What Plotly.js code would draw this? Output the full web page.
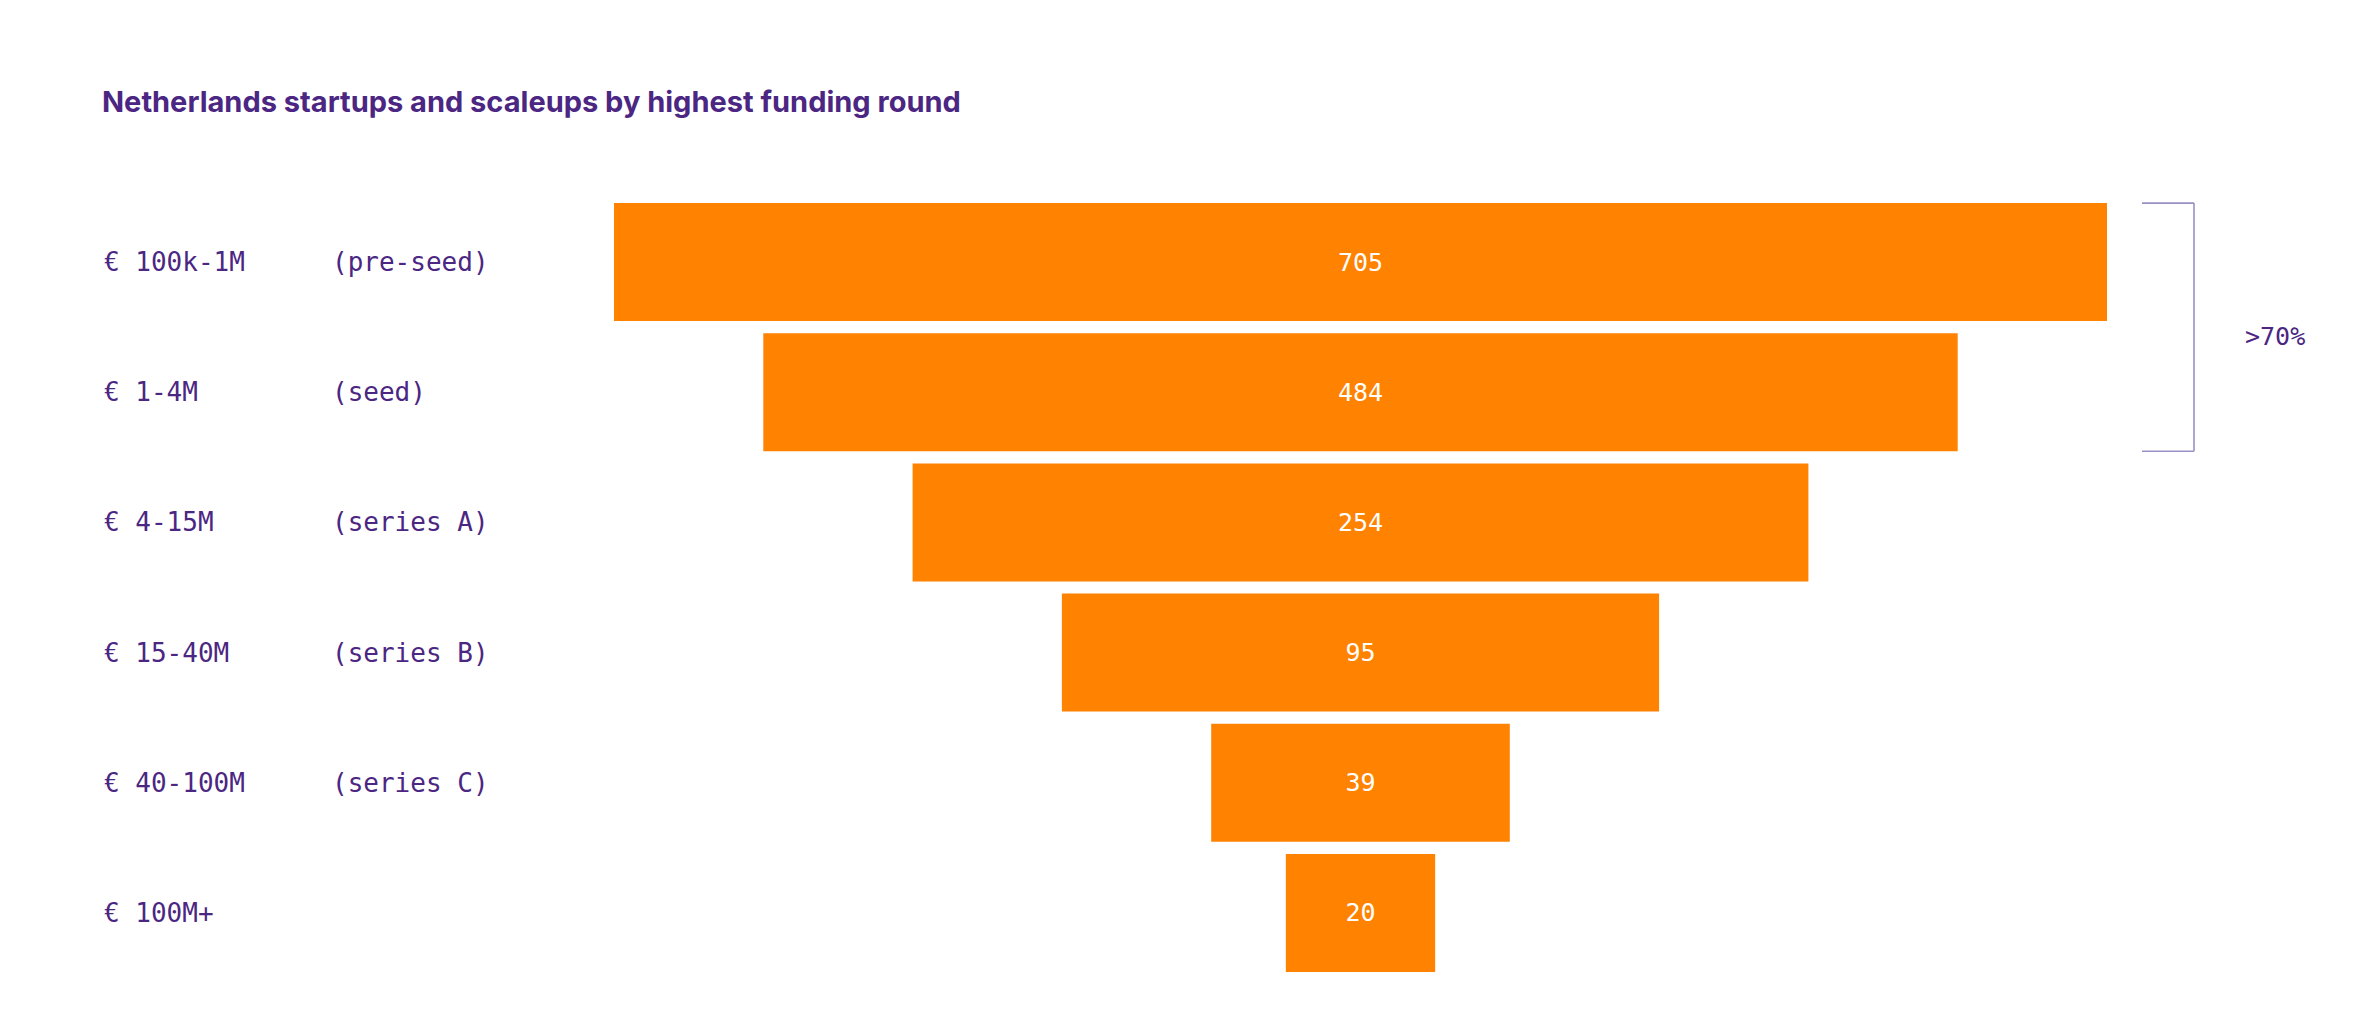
<!DOCTYPE html>
<html>
<head>
<meta charset="utf-8">
<script src="https://cdn.plot.ly/plotly-3.0.1.min.js"></script>
<style>html,body{margin:0;padding:0;background:#fff;}#chart{width:2378px;height:1026px;}</style>
</head>
<body>
<div id="chart"></div>
<script>
// Data
const rounds = ['€ 100k-1M', '€ 1-4M', '€ 4-15M', '€ 15-40M', '€ 40-100M', '€ 100M+'];
const stages = ['(pre-seed)', '(seed)', '(series A)', '(series B)', '(series C)', ''];
const counts = [705, 484, 254, 95, 39, 20];
// visual funnel step widths (the bars are stepped, not proportional to counts)
const funnelSteps = [10, 8, 6, 4, 2, 1];
const bracketLabel = '>70%';
const titleText = 'Netherlands startups and scaleups by highest funding round';

const W = 2378, H = 1026;
const purple = '#4B2682';
const mono = 'DejaVu Sans Mono, Liberation Mono, monospace';
const gap = 0.094;
const half = (1 - gap) / 2;

const trace = {
  type: 'funnel',
  y: rounds,
  x: funnelSteps,
  text: counts.map(String),
  textinfo: 'text',
  textposition: 'inside',
  insidetextanchor: 'middle',
  constraintext: 'none',
  textangle: 0,
  textfont: {family: mono, size: 25, color: '#ffffff'},
  marker: {color: '#FF8200', line: {width: 0}},
  connector: {visible: false},
  hoverinfo: 'none'
};

const annotations = [];
rounds.forEach((r, i) => {
  annotations.push({
    xref: 'paper', yref: 'y', x: 102 / W, y: r, xanchor: 'left', yanchor: 'middle',
    text: r, showarrow: false, font: {family: mono, size: 26, color: purple}
  });
  if (stages[i]) {
    annotations.push({
      xref: 'paper', yref: 'y', x: 330 / W, y: r, xanchor: 'left', yanchor: 'middle',
      text: stages[i], showarrow: false, font: {family: mono, size: 26, color: purple}
    });
  }
});
annotations.push({
  xref: 'paper', yref: 'y', x: 2243 / W, y: 0.57, xanchor: 'left', yanchor: 'middle',
  text: bracketLabel, showarrow: false, font: {family: mono, size: 25, color: purple}
});

const bx = 2194 / W, bx0 = 2142 / W;
const bracketColor = '#9A8FC6';
const shapes = [
  {type: 'line', xref: 'paper', yref: 'y', x0: bx, x1: bx, y0: -half, y1: 1 + half, line: {color: bracketColor, width: 1.6}},
  {type: 'line', xref: 'paper', yref: 'y', x0: bx0, x1: bx, y0: -half, y1: -half, line: {color: bracketColor, width: 1.6}},
  {type: 'line', xref: 'paper', yref: 'y', x0: bx0, x1: bx, y0: 1 + half, y1: 1 + half, line: {color: bracketColor, width: 1.6}}
];

const cx = 1360.5, unit = 149.3;
const layout = {
  width: W, height: H,
  margin: {l: 0, r: 0, t: 197, b: 48, pad: 0},
  paper_bgcolor: '#ffffff', plot_bgcolor: '#ffffff',
  showlegend: false,
  funnelgap: gap,
  title: {
    text: titleText,
    font: {family: 'Inter, Roboto, sans-serif', size: 29, weight: 700, color: purple},
    xref: 'container', yref: 'container', x: 102 / W, xanchor: 'left', y: 1 - 102 / H, yanchor: 'middle'
  },
  xaxis: {visible: false, range: [-cx / unit, (W - cx) / unit], fixedrange: true},
  yaxis: {type: 'category', range: [5.5, -0.5], showticklabels: false, showgrid: false, zeroline: false, showline: false, ticks: ''},
  annotations: annotations,
  shapes: shapes
};

Plotly.newPlot('chart', [trace], layout, {displayModeBar: false, staticPlot: true});
</script>
</body>
</html>
